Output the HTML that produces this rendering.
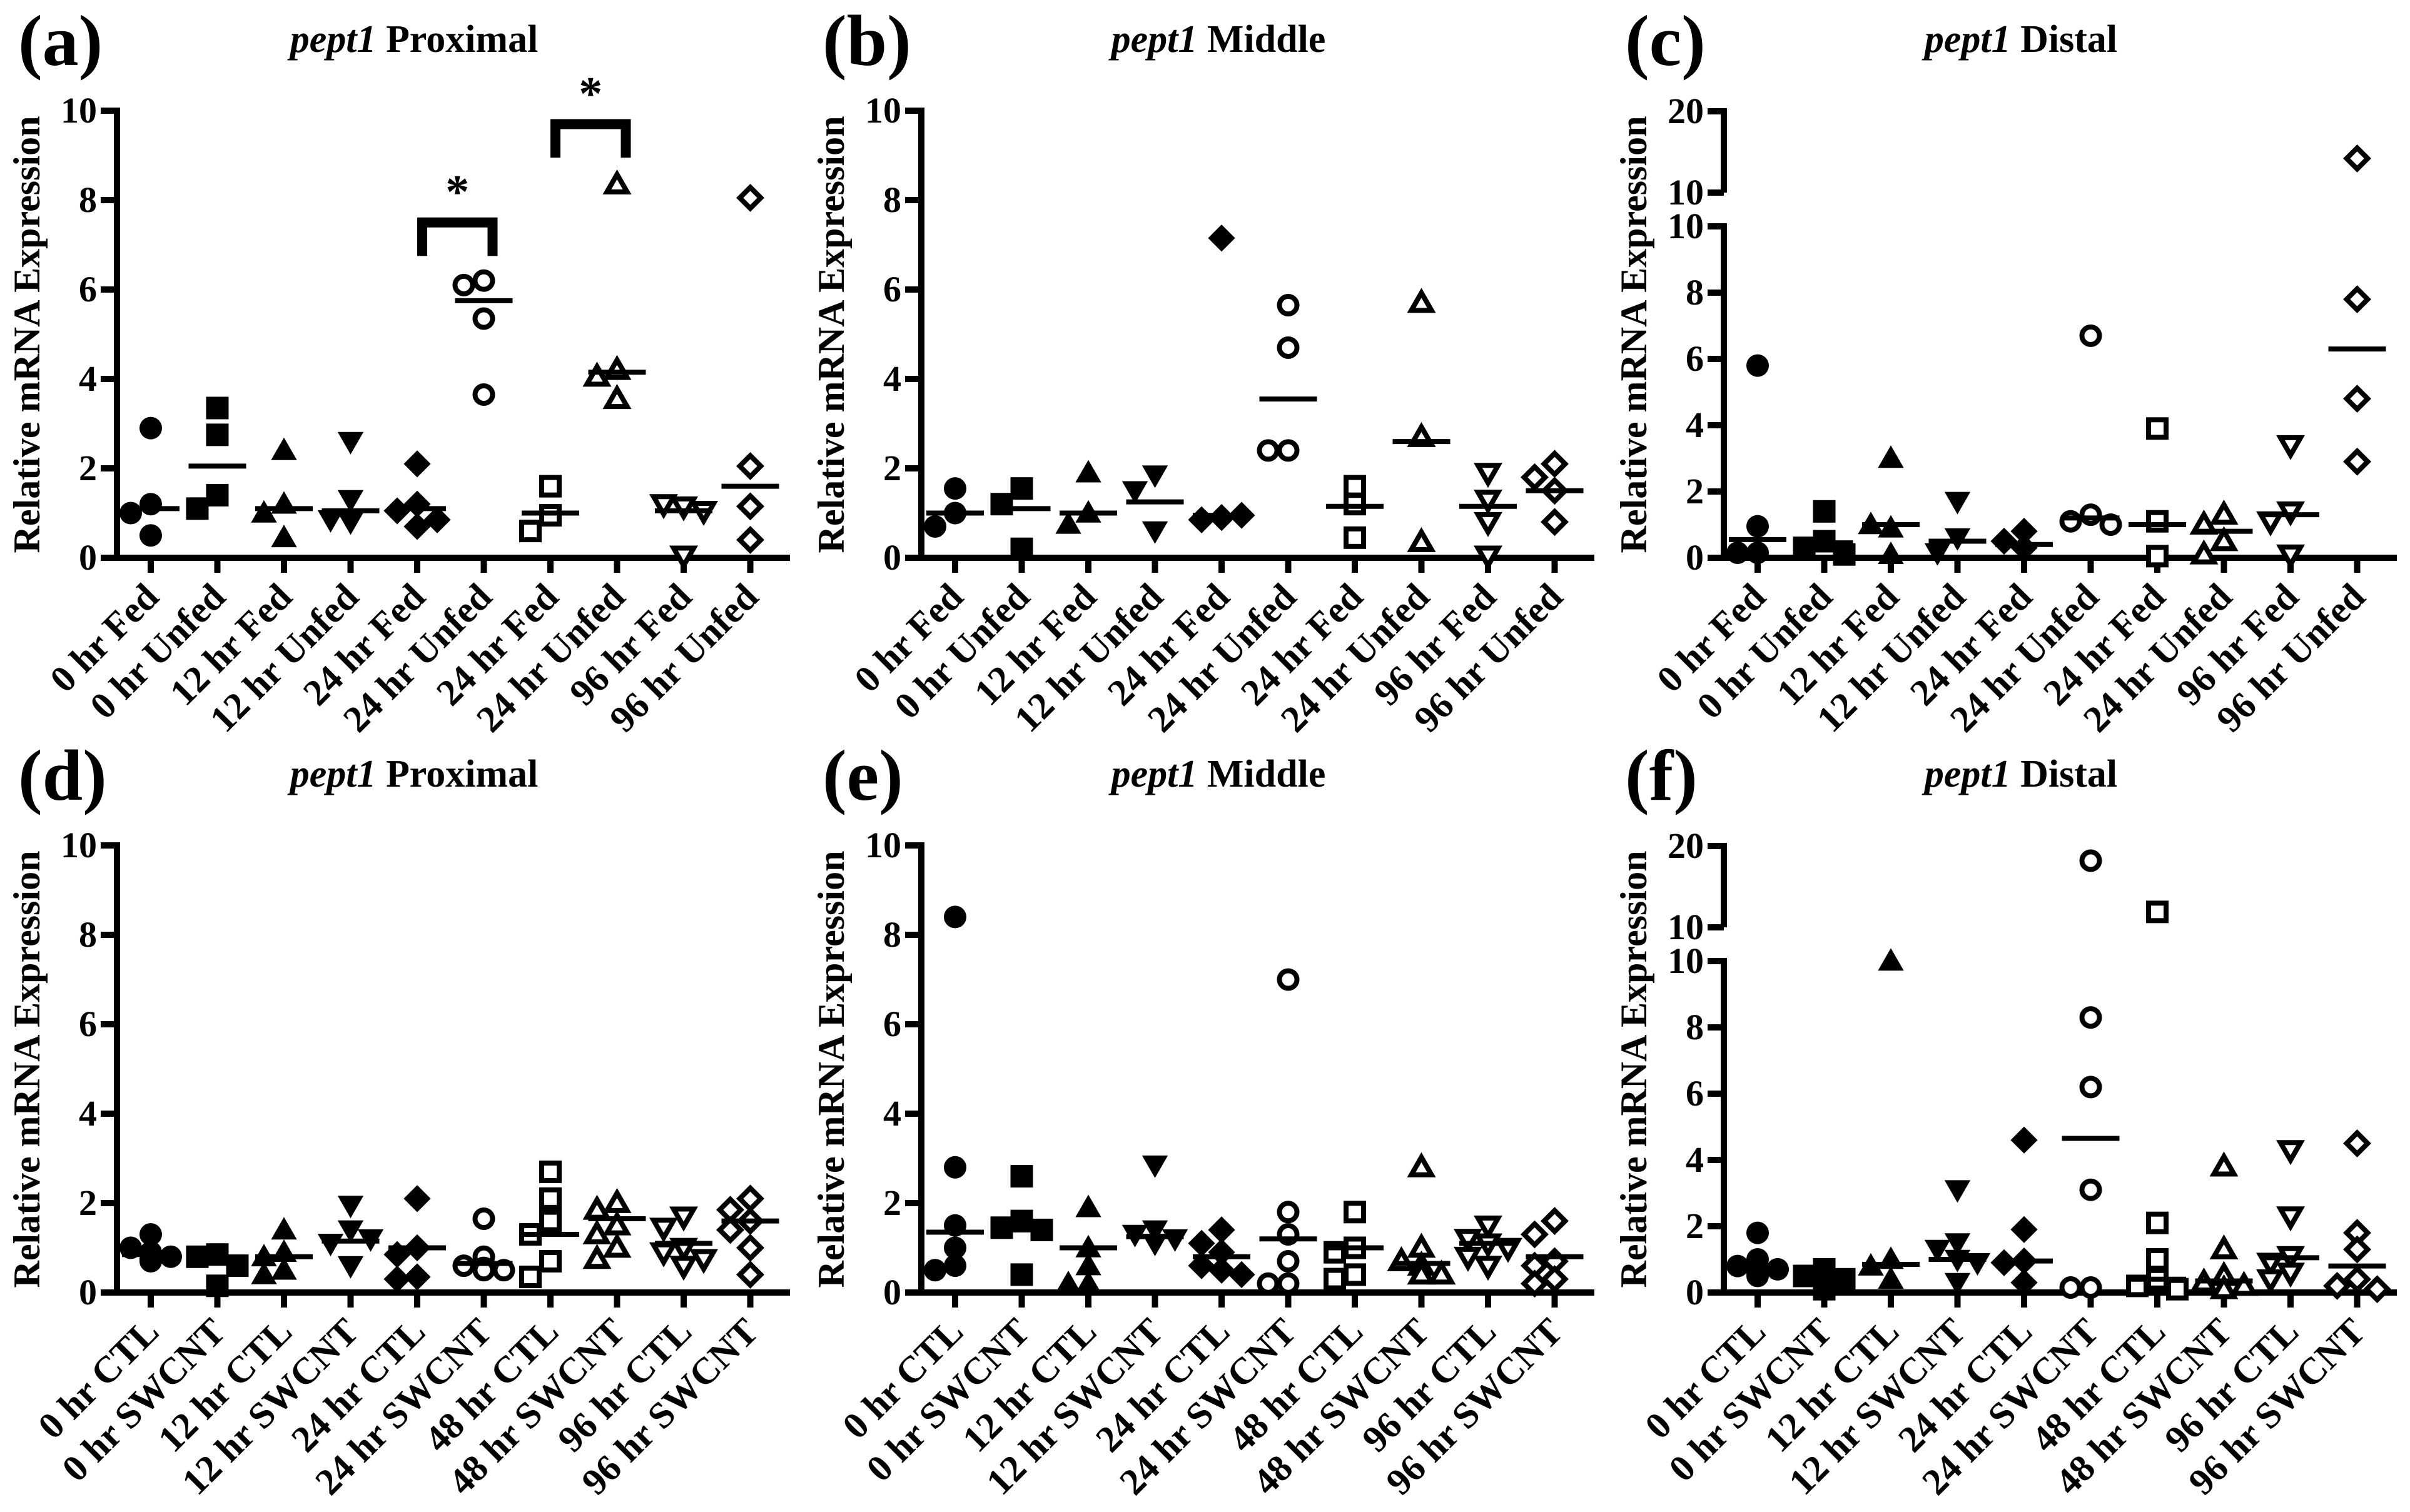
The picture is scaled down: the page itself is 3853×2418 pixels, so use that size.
<!DOCTYPE html>
<html><head><meta charset="utf-8"><style>
html,body{margin:0;padding:0;background:#fff;}
svg{display:block;}
text{font-family:"Liberation Serif",serif;font-weight:bold;fill:#000;}
</style></head><body>
<svg id="fig" width="3853" height="2418" viewBox="0 0 3853 2418" xmlns="http://www.w3.org/2000/svg">
<rect width="3853" height="2418" fill="#fff"/>
</svg>
<script>
const categoriesTop = ["0 hr Fed","0 hr Unfed","12 hr Fed","12 hr Unfed","24 hr Fed","24 hr Unfed","24 hr Fed","24 hr Unfed","96 hr Fed","96 hr Unfed"];
const categoriesBottom = ["0 hr CTL","0 hr SWCNT","12 hr CTL","12 hr SWCNT","24 hr CTL","24 hr SWCNT","48 hr CTL","48 hr SWCNT","96 hr CTL","96 hr SWCNT"];
const yTicksNormal = [0,2,4,6,8,10];
const yTicksBroken = [0,2,4,6,8,10,20];

const panelAValues = [[2.9,1.2,1.0,0.5],[3.35,2.75,1.4,1.1],[2.4,1.2,1.0,0.45],[2.6,1.3,0.8,0.85],[2.1,1.2,0.7,1.05,0.85],[6.2,6.1,5.35,3.65],[1.6,0.95,0.6],[8.35,4.2,4.05,3.55],[1.15,1.2,1.05,0.05],[8.05,2.05,1.15,0.4]];
const panelAMeans = [1.1,2.05,1.1,1.05,1.1,5.75,1.0,4.15,1.05,1.6];
const panelBValues = [[1.55,1.0,0.7],[1.55,1.2,0.2],[1.9,1.0,0.75],[1.85,1.5,0.6],[7.15,0.9,0.85,0.95],[5.65,4.7,2.4,2.4],[1.6,1.2,0.45],[5.7,2.7,0.35],[1.9,1.3,0.8,0.05],[2.1,1.8,1.5,0.8]];
const panelBMeans = [1.0,1.1,1.0,1.25,0.95,3.55,1.15,2.6,1.15,1.5];
const panelCValues = [[5.8,0.95,0.15,0.15],[1.4,0.5,0.3,0.1],[3.0,0.9,1.0,0.1],[1.7,0.6,0.15],[0.8,0.5,0.3],[6.7,1.3,1.1,1.0],[3.9,1.1,0.05],[1.3,1.0,0.5,0.1],[3.4,1.4,1.1,0.1],[14.2,7.8,4.8,2.9]];
const panelCMeans = [0.55,0.45,1.0,0.5,0.4,1.2,1.0,0.8,1.3,6.3];
const panelDValues = [[1.3,1.0,0.9,0.8,0.75,0.7],[0.85,0.8,0.6,0.15],[1.4,0.9,0.8,0.5,0.4],[1.95,1.4,1.1,1.2,0.6],[2.1,1.0,0.85,0.35,0.3],[1.65,0.8,0.6,0.5,0.55,0.5],[2.7,2.1,1.6,1.3,0.7,0.35],[2.0,1.85,1.5,1.3,1.0,0.75],[1.7,1.45,1.0,0.9,0.75,0.6],[2.1,1.85,1.6,1.4,1.0,0.4]];
const panelDMeans = [0.85,0.75,0.8,1.15,1.0,0.65,1.3,1.65,1.1,1.6];
const panelEValues = [[8.4,2.8,1.5,1.0,0.6,0.5],[2.6,1.6,1.45,1.4,0.4],[1.9,1.0,0.6,0.2,0.2],[2.85,1.4,1.3,1.2,1.1],[1.4,1.1,0.9,0.6,0.5,0.4],[7.0,1.8,1.3,0.7,0.2,0.2],[1.8,1.0,0.9,0.4,0.3],[2.8,1.0,0.7,0.6,0.4,0.4],[1.5,1.2,1.1,1.0,0.8,0.6],[1.6,1.3,0.7,0.6,0.3,0.2]];
const panelEMeans = [1.35,1.4,1.0,1.25,0.8,1.2,1.0,0.65,1.1,0.8];
const panelFValues = [[1.8,1.0,0.8,0.7,0.6,0.5],[0.7,0.5,0.4,0.3,0.2,0.1],[10.0,1.0,0.8,0.4],[3.1,1.5,1.3,1.0,0.9,0.3],[4.6,1.9,0.95,0.9,0.3],[18.2,8.3,6.2,3.1,0.15,0.15],[11.9,2.1,1.0,0.4,0.2,0.1],[3.8,1.3,0.5,0.3,0.2,0.1],[4.3,2.3,1.1,0.9,0.6,0.4],[4.5,1.8,1.3,0.4,0.2,0.1]];
const panelFMeans = [0.75,0.3,0.85,1.0,0.95,4.65,0.4,0.35,1.05,0.8];
const panelLetters = ["(a)","(b)","(c)","(d)","(e)","(f)"];
const panelTitles = ["Proximal","Middle","Distal","Proximal","Middle","Distal"];

const NS = "http://www.w3.org/2000/svg";
const svg = document.getElementById("fig");
function mk(tag, attrs, parent){
  const e = document.createElementNS(NS, tag);
  for (const k in attrs) e.setAttribute(k, attrs[k]);
  (parent||svg).appendChild(e);
  return e;
}
const AX = [187,1473,2756];
const ROW = [0,1175];

function makeY(rowOff, broken){
  if (!broken) return v => rowOff + 892 - v*71.5;
  return v => v <= 10 ? rowOff + 892 - v*53 : rowOff + 308 - (v-10)*13;
}

function drawMarker(g, shape, cx, cy){
  const s = 18, sw = 8;
  const filled = shape < 5;
  const st = filled ? {fill:"#000"} : {fill:"#fff", stroke:"#000", "stroke-width":sw};
  const k = shape % 5;
  const r = filled ? s : s - sw/2;
  let el;
  if (k === 0) el = mk("circle", Object.assign({cx:cx, cy:cy, r:r}, st), g);
  else if (k === 1) el = mk("rect", Object.assign({x:cx-r, y:cy-r, width:2*r, height:2*r}, st), g);
  else if (k === 2) el = mk("polygon", Object.assign({points:`${cx},${cy-r*1.15} ${cx+r*1.15},${cy+r*0.85} ${cx-r*1.15},${cy+r*0.85}`}, st), g);
  else if (k === 3) el = mk("polygon", Object.assign({points:`${cx},${cy+r*1.15} ${cx+r*1.15},${cy-r*0.85} ${cx-r*1.15},${cy-r*0.85}`}, st), g);
  else el = mk("polygon", Object.assign({points:`${cx},${cy-r*1.2} ${cx+r*1.2},${cy} ${cx},${cy+r*1.2} ${cx-r*1.2},${cy}`}, st), g);
  return el;
}

function drawPanel(p, values, means, cats){
  const col = p % 3, row = Math.floor(p/3);
  const ax = AX[col], ro = ROW[row];
  const broken = (col === 2);
  const y = makeY(ro, broken);
  const x = i => ax + 54 + i*106.5;
  const g = mk("g", {});
  
  

  const lt = mk("text", {x: ax-158, y: ro+104, "font-size":116}, g);
  lt.textContent = panelLetters[p];
  
  
  const tt = mk("text", {x: ax+475, y: ro+83, "font-size":62, "text-anchor":"middle"}, g);
  
  
  const ti = mk("tspan", {"font-style":"italic"}, tt); ti.textContent = "pept1 ";
  const tn = mk("tspan", {}, tt); tn.textContent = panelTitles[p];

  const yt = mk("text", {x:0, y:0, "font-size":60, "text-anchor":"middle", transform:`translate(${ax-124},${ro+535}) rotate(-90)`}, g);
  yt.textContent = "Relative mRNA Expression";
  
  

  const axg = mk("g", {stroke:"#000", "stroke-width":10, fill:"none"}, g);
  
  
  if (broken) {
    mk("line", {x1:ax, y1:y(20)-5, x2:ax, y2:y(10.0001)}, axg);
    mk("line", {x1:ax, y1:y(10)-5, x2:ax, y2:y(0)}, axg);
  } else {
    mk("line", {x1:ax, y1:y(10)-5, x2:ax, y2:y(0)}, axg);
  }
  mk("line", {x1:ax-24, y1:y(0), x2:ax+1076, y2:y(0)}, axg);
  const ticks = broken ? yTicksBroken : yTicksNormal;
  ticks.forEach(v => {
    const ty = y(v);
    mk("line", {x1:ax-26, y1:ty, x2:ax, y2:ty}, axg);
    const lab = mk("text", {x:ax-32, y:ty+19, "font-size":58, "text-anchor":"end"}, g);
    lab.textContent = v;
    
    
  });
  if (broken) {
    const ty = y(10.0001);
    mk("line", {x1:ax-26, y1:ty, x2:ax, y2:ty}, axg);
    const lab = mk("text", {x:ax-32, y:ty+19, "font-size":58, "text-anchor":"end"}, g);
    lab.textContent = "10";
    
    
  }
  cats.forEach((c, i) => {
    mk("line", {x1:x(i), y1:y(0), x2:x(i), y2:y(0)+24}, axg);
    const lab = mk("text", {x:0, y:0, "font-size":60, "text-anchor":"end", transform:`translate(${x(i)+16},${ro+958}) rotate(-45)`}, g);
    lab.textContent = c;
    
    
  });

  values.forEach((grp, i) => {
    const placed = [];
    grp.forEach(v => {
      const py = y(v);
      const offs = [0,-16,16,-32,32,-48,48];
      let off = 0;
      for (const o of offs) {
        if (!placed.some(pp => Math.abs(pp[0]-o) < 26 && Math.abs(pp[1]-py) < 26)) { off = o; break; }
      }
      placed.push([off, py]);
      const m = drawMarker(g, i, x(i)+off, py);
      
      
    });
    const ml = mk("line", {x1:x(i)-46, y1:y(means[i]), x2:x(i)+46, y2:y(means[i]), stroke:"#000", "stroke-width":8}, g);
    
    
  });
  return {x:x, y:y, g:g};
}

const pa = drawPanel(0, panelAValues, panelAMeans, categoriesTop);
drawPanel(1, panelBValues, panelBMeans, categoriesTop);
drawPanel(2, panelCValues, panelCMeans, categoriesTop);
drawPanel(3, panelDValues, panelDMeans, categoriesBottom);
drawPanel(4, panelEValues, panelEMeans, categoriesBottom);
drawPanel(5, panelFValues, panelFMeans, categoriesBottom);

const brackets = [[4,5,7.5,6.75,8.25],[6,7,9.7,8.95,10.45]];
brackets.forEach(b => {
  const x1 = pa.x(b[0]) + 8, x2 = pa.x(b[1]) + 14;
  const br = mk("polyline", {points:`${x1},${pa.y(b[3])} ${x1},${pa.y(b[2])} ${x2},${pa.y(b[2])} ${x2},${pa.y(b[3])}`, fill:"none", stroke:"#000", "stroke-width":16}, pa.g);
  
  
  const st = mk("text", {x:(x1+x2)/2, y:pa.y(b[4])+30, "font-size":76, "text-anchor":"middle"}, pa.g);
  st.textContent = "*";
  
  
});
</script>
</body></html>
